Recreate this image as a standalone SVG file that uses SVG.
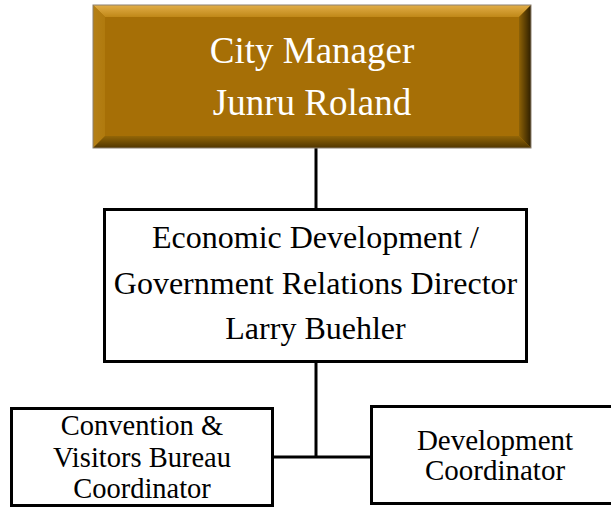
<svg xmlns="http://www.w3.org/2000/svg" width="611" height="508" viewBox="0 0 611 508">
<style>
.box{fill:#fff;stroke:#000;stroke-width:3}
.t{font-family:"Liberation Serif","Times New Roman",serif;text-anchor:middle;fill:#000}
.w{fill:#fff}
.conn{stroke:#000;stroke-width:3;fill:none}
</style>
<defs>
<linearGradient id="gTop" x1="0" y1="0" x2="0" y2="1"><stop offset="0" stop-color="#E2AE48"/><stop offset="1" stop-color="#C08818"/></linearGradient>
<linearGradient id="gLeft" x1="0" y1="0" x2="1" y2="0"><stop offset="0" stop-color="#B58016"/><stop offset="1" stop-color="#B07A0E"/></linearGradient>
<linearGradient id="gRight" x1="0" y1="0" x2="1" y2="0"><stop offset="0" stop-color="#8E6206"/><stop offset="1" stop-color="#2E1F00"/></linearGradient>
<linearGradient id="gBot" x1="0" y1="0" x2="0" y2="1"><stop offset="0" stop-color="#936607"/><stop offset="1" stop-color="#503600"/></linearGradient>
</defs>
<g id="connectors">
<line class="conn" x1="316" y1="148" x2="316" y2="209"/>
<line class="conn" x1="316" y1="362" x2="316" y2="457"/>
<line class="conn" x1="273" y1="457" x2="372" y2="457"/>
</g>
<g id="city-manager">
<rect x="93" y="5" width="438" height="143" fill="#A66F06"/>
<polygon points="93,5 531,5 519,17 105,17" fill="url(#gTop)"/>
<polygon points="93,5 105,17 105,136 93,148" fill="url(#gLeft)"/>
<polygon points="531,5 531,148 519,136 519,17" fill="url(#gRight)"/>
<polygon points="93,148 531,148 519,136 105,136" fill="url(#gBot)"/>
<rect x="93" y="5" width="438" height="143" fill="none" stroke="#8C8070" stroke-width="1"/>
<text class="t w" x="312" y="63" font-size="37">City Manager</text>
<text class="t w" x="312" y="115" font-size="37">Junru Roland</text>
</g>
<g id="econ-dev">
<rect class="box" x="104.5" y="209.5" width="422" height="152"/>
<text class="t" x="315.5" y="248" font-size="32">Economic Development /</text>
<text class="t" x="315.5" y="294" font-size="32">Government Relations Director</text>
<text class="t" x="315.5" y="339" font-size="32">Larry Buehler</text>
</g>
<g id="cvb">
<rect class="box" x="11.5" y="408.5" width="261" height="97"/>
<text class="t" x="142" y="435" font-size="28.5">Convention &amp;</text>
<text class="t" x="142" y="467" font-size="28.5">Visitors Bureau</text>
<text class="t" x="142" y="498" font-size="28.5">Coordinator</text>
</g>
<g id="dev-coord">
<rect class="box" x="371.5" y="406.5" width="250" height="97"/>
<text class="t" x="495" y="450" font-size="29">Development</text>
<text class="t" x="495" y="480" font-size="29">Coordinator</text>
</g>
</svg>
